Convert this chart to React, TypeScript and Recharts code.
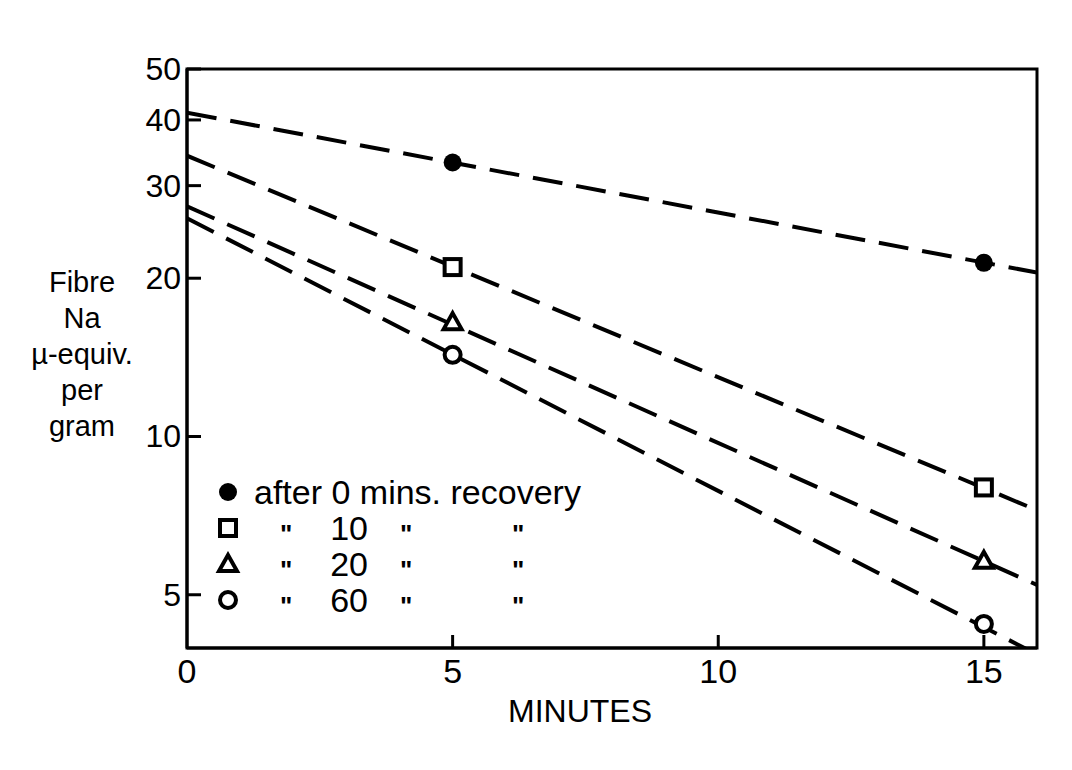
import React from "react";
import {
  ComposedChart,
  Line,
  Scatter,
  XAxis,
  YAxis,
  ReferenceArea,
} from "recharts";

// measured points (minutes vs fibre Na, µ-equiv per gram)
const minutes = [5, 15];
const na0 = [33.2, 21.4];
const na10 = [21.0, 8.0];
const na20 = [16.5, 5.8];
const na60 = [14.3, 4.4];

// dashed fitted lines, end points read at 0 and 16 minutes
const fitMinutes = [0, 16];
const fit0 = [41.3, 20.5];
const fit10 = [34.2, 7.24];
const fit20 = [27.4, 5.22];
const fit60 = [26.0, 3.85];

const xTicks = [0, 5, 10, 15];
const yTicks = [5, 10, 20, 30, 40, 50];
const yLabelLines = ["Fibre", "Na", "µ-equiv.", "per", "gram"];
const legendRows = [
  { mark: "dot", num: "0" },
  { mark: "square", num: "10" },
  { mark: "triangle", num: "20" },
  { mark: "circle", num: "60" },
];

const FONT = "'Liberation Sans', Arial, sans-serif";
const Y_MIN = 3.96;

const toPoints = (xs: number[], ys: number[]) => xs.map((x, i) => ({ x, y: ys[i] }));

function Marker({ kind, cx, cy }: { kind: string; cx: number; cy: number }) {
  if (kind === "dot") return <circle cx={cx} cy={cy} r={9} fill="#000" />;
  if (kind === "square")
    return <rect x={cx - 8} y={cy - 8} width={16} height={16} fill="#fff" stroke="#000" strokeWidth={4} />;
  if (kind === "triangle")
    return (
      <polygon
        points={`${cx},${cy - 9} ${cx + 9},${cy + 7} ${cx - 9},${cy + 7}`}
        fill="#fff"
        stroke="#000"
        strokeWidth={4}
      />
    );
  return <circle cx={cx} cy={cy} r={8} fill="#fff" stroke="#000" strokeWidth={4} />;
}

const shapeFor = (kind: string) => (props: any) => <Marker kind={kind} cx={props.cx} cy={props.cy} />;

function YTick(props: any) {
  const { x, y, payload } = props;
  return (
    <g>
      <line x1={x} x2={x + 14} y1={y} y2={y} stroke="#000" strokeWidth={3} />
      <text x={x - 6} y={y} dy={11} textAnchor="end" fontSize={32} fontFamily={FONT} fill="#000">
        {payload.value}
      </text>
    </g>
  );
}

function XTick(props: any) {
  const { x, y, payload } = props;
  return (
    <g>
      {payload.value !== 0 && <line x1={x} x2={x} y1={y} y2={y - 13} stroke="#000" strokeWidth={3} />}
      <text x={x} y={y} dy={35} textAnchor="middle" fontSize={34} fontFamily={FONT} fill="#000">
        {payload.value}
      </text>
    </g>
  );
}

const ditto = (left: number) => (
  <span style={{ position: "absolute", left, top: 6, fontSize: 26, fontWeight: 700 }}>"</span>
);

function LegendSymbol({ kind }: { kind: string }) {
  return (
    <svg width={26} height={26} style={{ position: "absolute", left: 215, top: 5 }}>
      <Marker kind={kind} cx={13} cy={13} />
    </svg>
  );
}

export default function App() {
  const lineStyle = { stroke: "#000", strokeWidth: 4, strokeDasharray: "30 14", dot: false as const, isAnimationActive: false };
  return (
    <div style={{ position: "absolute", left: 0, top: 0, width: 1072, height: 770, background: "#fff", fontFamily: FONT }}>
      <ComposedChart width={1072} height={770} margin={{ top: 69, right: 35, bottom: 72, left: 127 }}>
        <XAxis
          type="number"
          dataKey="x"
          domain={[0, 16]}
          ticks={xTicks}
          interval={0}
          tick={<XTick />}
          tickLine={false}
          tickSize={0}
          tickMargin={0}
          height={50}
          axisLine={{ stroke: "#000", strokeWidth: 3 }}
          allowDataOverflow
        />
        <YAxis
          type="number"
          dataKey="y"
          scale="log"
          domain={[Y_MIN, 50]}
          ticks={yTicks}
          interval={0}
          tick={<YTick />}
          tickLine={false}
          tickSize={0}
          tickMargin={0}
          width={60}
          axisLine={{ stroke: "#000", strokeWidth: 3 }}
          allowDataOverflow
        />
        <ReferenceArea x1={0} x2={16} y1={Y_MIN} y2={50} fill="none" stroke="#000" strokeWidth={3} />
        <Line data={toPoints(fitMinutes, fit0)} dataKey="y" {...lineStyle} />
        <Line data={toPoints(fitMinutes, fit10)} dataKey="y" {...lineStyle} />
        <Line data={toPoints(fitMinutes, fit20)} dataKey="y" {...lineStyle} />
        <Line data={toPoints(fitMinutes, fit60)} dataKey="y" {...lineStyle} />
        <Scatter data={toPoints(minutes, na0)} dataKey="y" shape={shapeFor("dot")} isAnimationActive={false} />
        <Scatter data={toPoints(minutes, na10)} dataKey="y" shape={shapeFor("square")} isAnimationActive={false} />
        <Scatter data={toPoints(minutes, na20)} dataKey="y" shape={shapeFor("triangle")} isAnimationActive={false} />
        <Scatter data={toPoints(minutes, na60)} dataKey="y" shape={shapeFor("circle")} isAnimationActive={false} />
      </ComposedChart>

      <div
        style={{
          position: "absolute",
          left: 2,
          top: 264,
          width: 160,
          textAlign: "center",
          fontSize: 29,
          lineHeight: "36px",
        }}
      >
        {yLabelLines.map((l) => (
          <div key={l}>{l}</div>
        ))}
      </div>

      <div
        style={{
          position: "absolute",
          left: 480,
          top: 693,
          width: 200,
          textAlign: "center",
          fontSize: 32,
        }}
      >
        MINUTES
      </div>

      {legendRows.map((r, i) => (
        <div key={r.num} style={{ position: "absolute", left: 0, top: 474 + i * 36, height: 36, width: 700, fontSize: 34, lineHeight: "36px" }}>
          <LegendSymbol kind={r.mark} />
          {i === 0 ? (
            <span style={{ position: "absolute", left: 254 }}>after 0 mins. recovery</span>
          ) : (
            <>
              {ditto(280)}
              <span style={{ position: "absolute", left: 330, width: 38, textAlign: "right" }}>{r.num}</span>
              {ditto(400)}
              {ditto(512)}
            </>
          )}
        </div>
      ))}
    </div>
  );
}
